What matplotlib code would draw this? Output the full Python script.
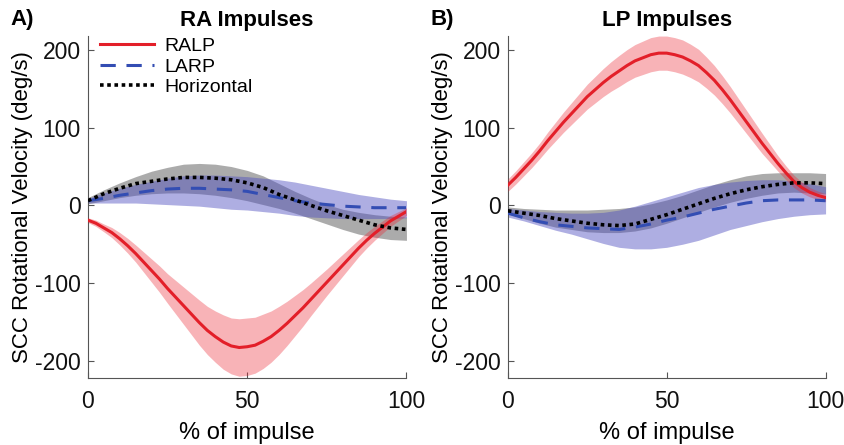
import matplotlib
matplotlib.use("Agg")
import matplotlib.pyplot as plt
import numpy as np

plt.rcParams['font.family'] = ['Liberation Sans', 'DejaVu Sans']
plt.rcParams['axes.unicode_minus'] = False

# % of impulse
x = [0, 5, 10, 15, 20, 25, 30, 35, 40, 45, 50, 55, 60, 65, 70, 75, 80, 85, 90, 95, 100]
x_red = [0, 2.5, 5, 7.5, 10, 12.5, 15, 17.5, 20, 22.5, 25, 27.5, 30, 32.5, 35, 37.5, 40, 42.5,
         45, 47.5, 50, 52.5, 55, 57.5, 60, 62.5, 65, 67.5, 70, 72.5, 75, 77.5, 80, 82.5, 85,
         87.5, 90, 92.5, 95, 97.5, 100]

# ---- Panel A: RA impulses ----
a_ralp_mean = [-19, -23, -29, -35, -43, -52, -62, -73, -84, -95, -107, -118, -129, -140, -151,
               -161, -169, -176, -181, -183, -182, -180, -175, -169, -161, -152, -142, -132,
               -121, -110, -99, -88, -77, -66, -55, -45, -36, -28, -20, -14, -8]
a_ralp_sd = [3, 4, 5, 6.5, 8, 9.5, 11, 13, 15, 17, 19, 21.5, 24, 26.5, 29, 31, 33, 35, 36, 37,
             37, 36, 35, 33, 31, 28.5, 26, 23.5, 21, 19, 17, 15.5, 14, 12.5, 11, 10, 9, 8, 7, 6, 5]

a_larp_mean = [6, 9, 13, 16, 19, 21, 22, 22, 21, 20, 18, 14, 10, 6, 3, 1, -1, -2, -3, -3, -3]
a_larp_hi = [9, 16, 22, 27, 31, 35, 38, 39, 39, 38, 37, 35, 33, 30, 26, 22, 18, 14, 11, 8, 6]
a_larp_lo = [3, 3, 3, 3, 2, 1, 0, -1, -3, -5, -6, -8, -10, -13, -15, -16, -17, -17, -17, -17, -16]

a_hor_mean = [6, 15, 22, 28, 31, 34, 36, 36, 35, 33, 29, 23, 14, 7, 0, -7, -13, -19, -25, -29, -31]
a_hor_hi = [10, 20, 29, 37, 44, 49, 53, 54, 53, 50, 45, 38, 28, 18, 9, 1, -5, -9, -12, -14, -15]
a_hor_lo = [2, 6, 10, 13, 15, 16, 16, 15, 13, 10, 6, 1, -4, -10, -17, -24, -31, -37, -41, -44, -45]

# ---- Panel B: LP impulses ----
b_ralp_mean = [26, 36, 47, 58, 70, 83, 95, 107, 118, 129, 140, 149, 158, 166, 173, 180, 186, 190,
               194, 196, 196, 194, 191, 186, 180, 171, 161, 149, 136, 122, 108, 94, 80, 67, 54,
               42, 31, 23, 17, 13, 10]
b_ralp_sd = [8, 8.5, 9, 9.5, 10, 11, 12, 13, 14, 15, 16, 17, 18, 19, 20, 20.5, 21, 21.5, 22, 22,
             22, 22, 22, 21.5, 21, 20, 19, 18, 17, 16, 15, 14, 13, 11.5, 10, 9, 8, 7, 6, 5.5, 5]

b_larp_mean = [-10, -16, -21, -25, -27, -29, -30, -31, -28, -24, -19, -15, -10, -5, -1, 3, 6, 7, 7, 7, 6]
b_larp_hi = [-4, -6, -8, -9, -10, -10, -9, -6, -1, 5, 11, 17, 23, 27, 30, 32, 33, 33, 31, 28, 24]
b_larp_lo = [-15, -20, -26, -32, -37, -43, -49, -54, -56, -56, -54, -50, -45, -38, -31, -26, -21, -17, -14, -12, -11]

b_hor_mean = [-7, -10, -13, -17, -20, -23, -25, -26, -24, -18, -12, -5, 2, 9, 15, 20, 24, 27, 29, 29, 28]
b_hor_hi = [-2, -4, -5, -6, -6, -6, -5, -4, -2, 2, 7, 13, 20, 27, 33, 38, 41, 42, 42, 42, 41]
b_hor_lo = [-11, -17, -23, -28, -31, -34, -35, -35, -33, -29, -23, -16, -9, -2, 4, 9, 13, 16, 17, 16, 15]

titles = ["RA Impulses", "LP Impulses"]
panel_labels = ["A)", "B)"]
xticks = [0, 50, 100]
yticks = [-200, -100, 0, 100, 200]
series_names = ["RALP", "LARP", "Horizontal"]

RED = (0.89, 0.12, 0.16)
RED_BAND = (0.92, 0.15, 0.2)
BLUE = (0.20, 0.30, 0.70)
BLUE_BAND = (0.30, 0.30, 0.75)
GRAY_BAND = (0.35, 0.35, 0.35)

fig = plt.figure(figsize=(8.45, 4.45), dpi=100)
ax_pos = [[0.104, 0.151, 0.377, 0.768], [0.601, 0.151, 0.376, 0.768]]

panels = [
    (a_ralp_mean, a_ralp_sd, a_larp_mean, a_larp_hi, a_larp_lo, a_hor_mean, a_hor_hi, a_hor_lo),
    (b_ralp_mean, b_ralp_sd, b_larp_mean, b_larp_hi, b_larp_lo, b_hor_mean, b_hor_hi, b_hor_lo),
]

for i, (rm, rs, lm, lh, ll, hm, hh, hl) in enumerate(panels):
    ax = fig.add_axes(ax_pos[i])
    xa = np.array(x)
    xr = np.array(x_red)
    rm_a = np.array(rm); rs_a = np.array(rs)
    ax.fill_between(xa, hl, hh, color=GRAY_BAND, alpha=0.5, lw=0, zorder=1)
    ax.fill_between(xa, ll, lh, color=BLUE_BAND, alpha=0.45, lw=0, zorder=2)
    ax.fill_between(xr, rm_a - rs_a, rm_a + rs_a, color=RED_BAND, alpha=0.35, lw=0, zorder=3)
    l1, = ax.plot(xr, rm, color=RED, lw=2.2, zorder=5, label=series_names[0])
    l2, = ax.plot(xa, lm, color=BLUE, lw=2.2, ls=(0, (5, 3.5)), zorder=6, label=series_names[1])
    l3, = ax.plot(xa, hm, color='black', lw=2.6, ls=(0, (1, 1)), zorder=7, label=series_names[2])
    ax.set_xlim(0, 100)
    ax.set_ylim(-222, 218)
    ax.set_xticks(xticks)
    ax.set_yticks(yticks)
    ax.tick_params(direction='in', length=4, width=0.8, labelsize=16.5, color='#555555',
                   labelcolor='#111111')
    ax.tick_params(axis='x', pad=9)
    ax.tick_params(axis='y', pad=5)
    for s in ['top', 'right']:
        ax.spines[s].set_visible(False)
    for s in ['left', 'bottom']:
        ax.spines[s].set_color('#555555')
        ax.spines[s].set_linewidth(0.8)
    ax.set_xlabel("% of impulse", fontsize=17, labelpad=6.5)
    ax.set_ylabel("SCC Rotational Velocity (deg/s)", fontsize=16)
    ax.yaxis.set_label_coords(-0.173, 0.5)
    ax.set_title(titles[i], fontsize=16, fontweight='bold', pad=7)
    fig.text(ax_pos[i][0] - 0.092, 0.957, panel_labels[i], fontsize=16, fontweight='bold',
             ha='left', va='center')
    if i == 0:
        ax.legend(handles=[l1, l2, l3], loc='upper left', frameon=False, fontsize=14,
                  handlelength=2.8, handletextpad=0.55, borderaxespad=0.2, labelspacing=0.15,
                  bbox_to_anchor=(0.0, 1.03))

fig.savefig("out.png", dpi=100)
